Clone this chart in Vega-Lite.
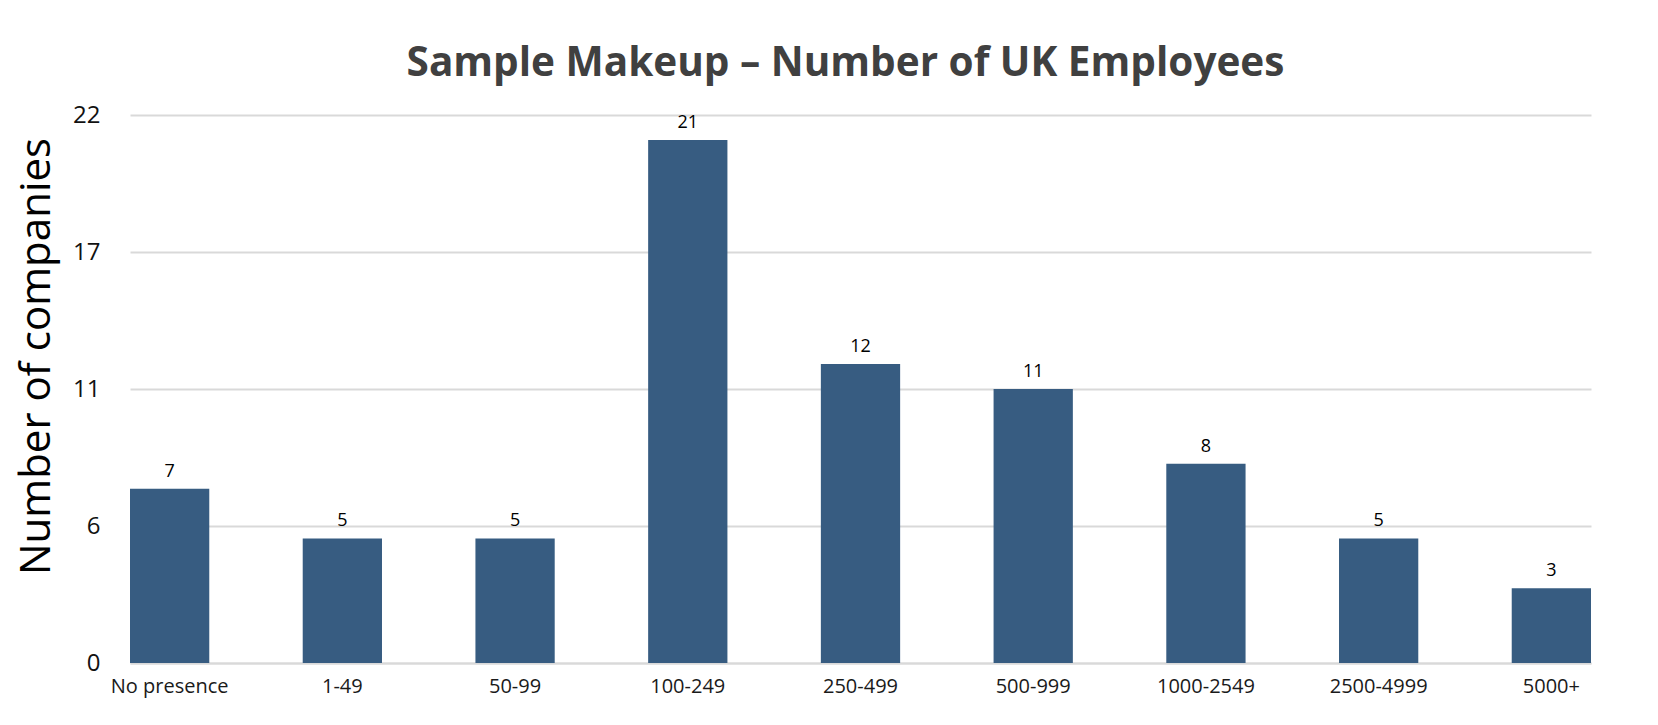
{
  "$schema": "https://vega.github.io/schema/vega-lite/v6.json",
  "autosize": {"type": "none"},
  "width": 1461,
  "height": 548,
  "padding": {"left": 130, "top": 115, "right": 67, "bottom": 62},
  "background": "white",
  "title": {
    "text": "Sample Makeup – Number of UK Employees",
    "font": "Open Sans",
    "fontSize": 40.5,
    "fontWeight": "bold",
    "color": "#404040",
    "anchor": "middle",
    "frame": "group",
    "dx": -15,
    "offset": 19
  },
  "data": {
    "values": [
      {"size": "No presence", "count": 7},
      {"size": "1-49", "count": 5},
      {"size": "50-99", "count": 5},
      {"size": "100-249", "count": 21},
      {"size": "250-499", "count": 12},
      {"size": "500-999", "count": 11},
      {"size": "1000-2549", "count": 8},
      {"size": "2500-4999", "count": 5},
      {"size": "5000+", "count": 3}
    ]
  },
  "encoding": {
    "x": {
      "field": "size",
      "type": "nominal",
      "sort": null,
      "scale": {"paddingInner": 0.541, "paddingOuter": 0},
      "axis": {
        "title": null,
        "labelAngle": 0,
        "labelFont": "Open Sans",
        "labelFontSize": 20,
        "labelColor": "#1a1a1a",
        "labelPadding": 13,
        "ticks": false,
        "domainColor": "#d9d9d9",
        "domainWidth": 2,
        "grid": false
      }
    },
    "y": {
      "field": "count",
      "type": "quantitative",
      "scale": {"domain": [0, 22], "nice": false},
      "axis": {
        "title": "Number of companies",
        "titleFont": "Open Sans",
        "titleFontSize": 42,
        "titleFontWeight": "normal",
        "titleColor": "#000000",
        "titleY": 241,
        "titleX": -72,
        "titleAngle": -90,
        "titleBaseline": "bottom",
        "values": [0, 5.5, 11, 16.5, 22],
        "format": ".0f",
        "labelFont": "Open Sans",
        "labelFontSize": 24,
        "labelColor": "#111111",
        "labelPadding": 30,
        "ticks": false,
        "domain": false,
        "gridColor": "#d9d9d9",
        "gridWidth": 2
      }
    }
  },
  "layer": [
    {"mark": {"type": "bar", "color": "#375c81"}},
    {
      "mark": {"type": "text", "baseline": "alphabetic", "dy": -12, "font": "Open Sans", "fontSize": 18, "color": "#000000"},
      "encoding": {"text": {"field": "count", "type": "quantitative"}}
    }
  ],
  "config": {"view": {"stroke": null}}
}
